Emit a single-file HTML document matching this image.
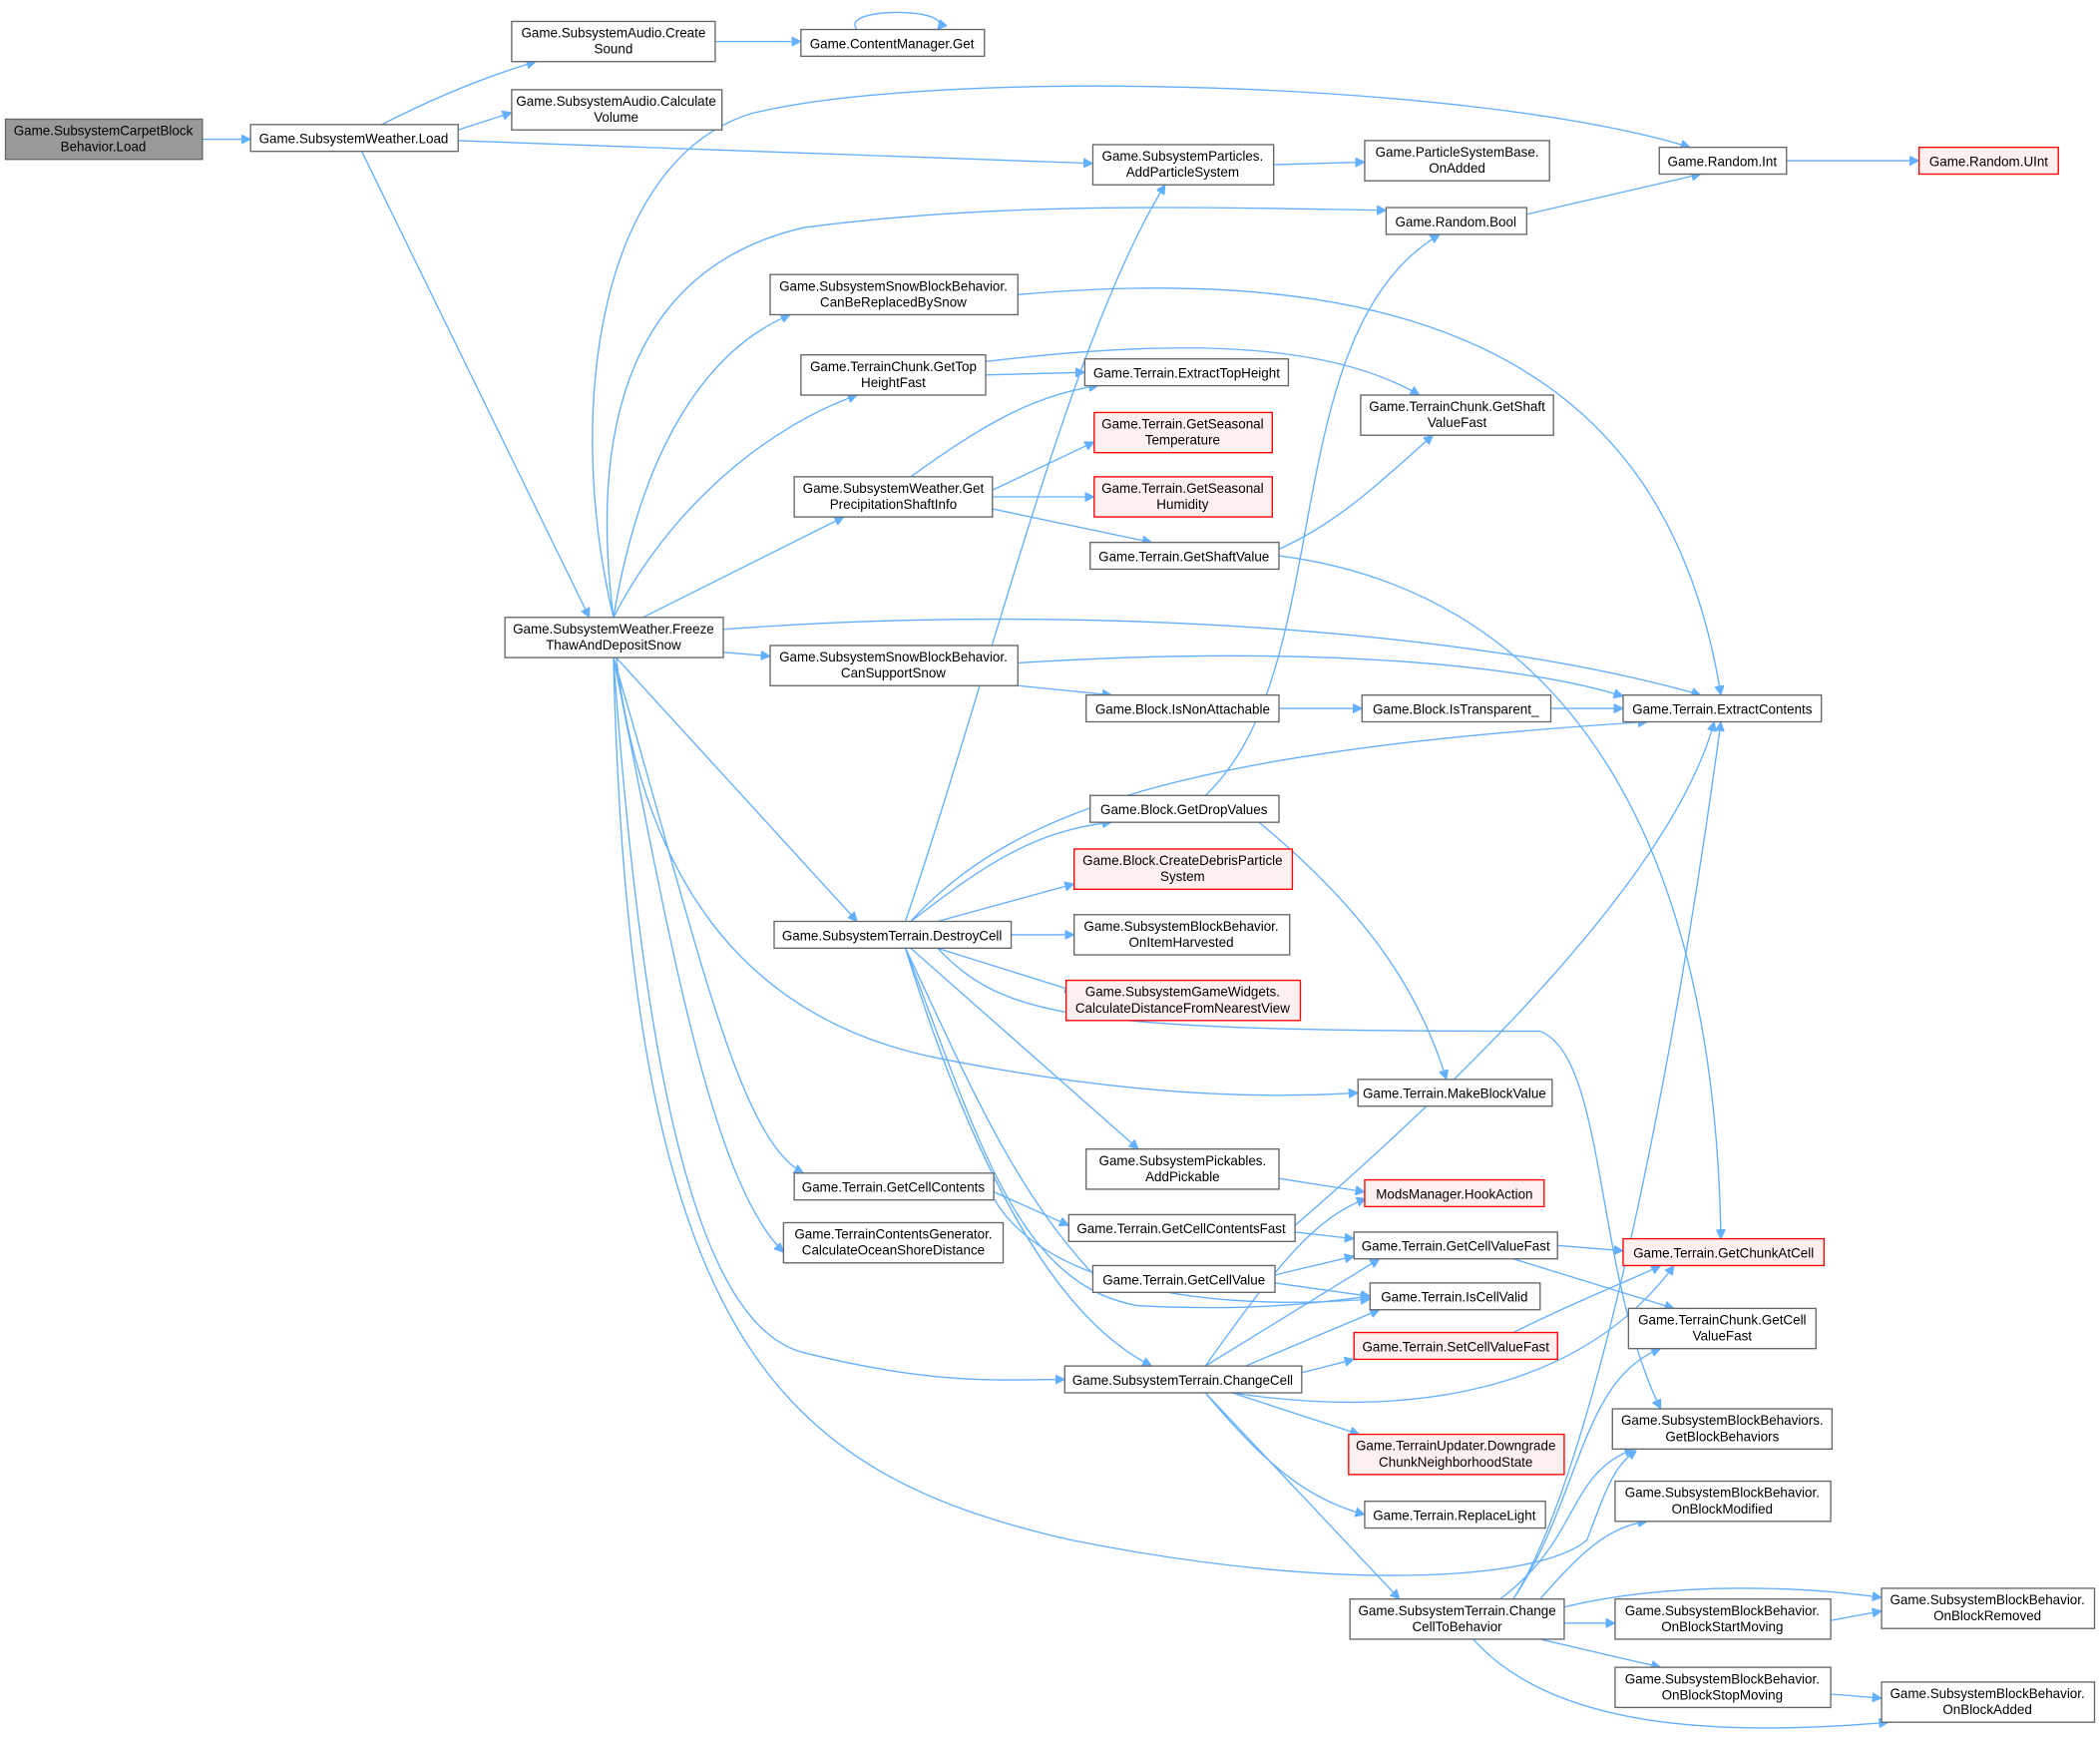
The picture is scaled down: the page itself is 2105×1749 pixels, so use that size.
<!DOCTYPE html>
<html><head><meta charset="utf-8"><style>
html,body{margin:0;padding:0;background:#fff;}
svg{display:block;}
text{font-family:"Liberation Sans",sans-serif;font-size:10px;fill:#000;text-anchor:middle;}
.n{fill:#fff;stroke:#666;stroke-width:1;}
.r{fill:#fff0f0;stroke:#f00;stroke-width:1;}
.g{fill:#999;stroke:#666;stroke-width:1;}
.e{fill:none;stroke:#63b0ff;stroke-width:1;marker-end:url(#a);}
</style></head><body>
<svg width="2105" height="1749" viewBox="0 0 1568 1303" xmlns="http://www.w3.org/2000/svg">
<defs><marker id="a" viewBox="0 0 10 10" refX="10" refY="5" markerWidth="7" markerHeight="7" orient="auto" markerUnits="userSpaceOnUse"><path d="M0,0L10,5L0,10z" fill="#63b0ff" stroke="#63b0ff"/></marker></defs>
<g>
<path class="e" d="M151,104L187,104"/>
<path class="e" d="M285,93C320,75 360,58 400,46"/>
<path class="e" d="M342,97L382,84"/>
<path class="e" d="M342,105L816,122"/>
<path class="e" d="M270,113L440,461"/>
<path class="e" d="M534,31L598,31"/>
<path class="e" d="M640,22C625,5 715,5 700,22"/>
<path class="e" d="M951,123L1019,121"/>
<path class="e" d="M1334,120L1433,120"/>
<path class="e" d="M1140,160L1270,130"/>
<path class="e" d="M458,461C420,300 450,120 560,85C700,50 1100,60 1262,110"/>
<path class="e" d="M458,461C440,320 470,200 600,170C750,150 900,155 1035,157"/>
<path class="e" d="M458,461C480,330 530,260 590,235"/>
<path class="e" d="M458,461C500,380 570,320 640,295"/>
<path class="e" d="M480,461L630,386"/>
<path class="e" d="M540,470C800,450 1100,470 1270,519"/>
<path class="e" d="M540,487L575,490"/>
<path class="e" d="M460,491L640,688"/>
<path class="e" d="M460,491C480,650 550,760 700,790C850,820 950,820 1014,816"/>
<path class="e" d="M458,491C520,700 550,850 600,876"/>
<path class="e" d="M458,491C500,700 530,880 585,935"/>
<path class="e" d="M458,491C480,800 520,990 600,1010C700,1035 750,1030 795,1030"/>
<path class="e" d="M458,491C470,1000 580,1100 800,1150C1000,1190 1150,1180 1185,1150C1200,1110 1205,1095 1222,1083"/>
<path class="e" d="M760,220C1100,190 1250,300 1285,519"/>
<path class="e" d="M736,280L810,278"/>
<path class="e" d="M736,270C900,250 1000,260 1060,295"/>
<path class="e" d="M680,356C730,320 770,295 820,288"/>
<path class="e" d="M741,366L817,330"/>
<path class="e" d="M741,371L817,371"/>
<path class="e" d="M741,380L860,405"/>
<path class="e" d="M955,410C1000,390 1030,360 1070,325"/>
<path class="e" d="M955,415C1150,440 1280,600 1285,925"/>
<path class="e" d="M760,495C1000,480 1150,500 1212,520"/>
<path class="e" d="M760,512L830,519"/>
<path class="e" d="M955,529L1017,529"/>
<path class="e" d="M1158,529L1212,529"/>
<path class="e" d="M676,688C740,500 800,250 870,138"/>
<path class="e" d="M680,688C760,600 900,560 1230,539"/>
<path class="e" d="M680,688C730,650 770,620 830,614"/>
<path class="e" d="M700,688L802,660"/>
<path class="e" d="M755,698L802,698"/>
<path class="e" d="M700,708L802,740"/>
<path class="e" d="M680,708L850,858"/>
<path class="e" d="M676,708C720,800 760,900 830,965"/>
<path class="e" d="M676,708C730,850 760,960 850,975C950,980 1000,970 1023,968"/>
<path class="e" d="M676,708C720,850 780,980 860,1020"/>
<path class="e" d="M700,708C750,760 800,770 1150,770C1200,790 1190,950 1240,1052"/>
<path class="e" d="M900,594C1000,500 950,250 1075,175"/>
<path class="e" d="M940,614C1020,680 1060,740 1080,806"/>
<path class="e" d="M955,880L1019,890"/>
<path class="e" d="M900,1020C950,950 980,910 1020,895"/>
<path class="e" d="M967,915C1100,800 1250,650 1280,539"/>
<path class="e" d="M742,890L798,915"/>
<path class="e" d="M742,895C780,960 900,980 1023,970"/>
<path class="e" d="M967,920L1011,925"/>
<path class="e" d="M1163,930L1212,934"/>
<path class="e" d="M1130,940L1250,977"/>
<path class="e" d="M952,952L1011,938"/>
<path class="e" d="M952,958L1023,968"/>
<path class="e" d="M1130,995C1180,970 1220,955 1240,945"/>
<path class="e" d="M900,1020L1030,940"/>
<path class="e" d="M930,1020L1030,978"/>
<path class="e" d="M972,1025L1011,1015"/>
<path class="e" d="M920,1040C1050,1060 1180,1040 1250,945"/>
<path class="e" d="M920,1040L1015,1071"/>
<path class="e" d="M900,1040C950,1100 980,1120 1019,1131"/>
<path class="e" d="M900,1040L1045,1194"/>
<path class="e" d="M1120,1194C1180,1150 1170,1100 1220,1082"/>
<path class="e" d="M1150,1194C1180,1160 1200,1140 1230,1136"/>
<path class="e" d="M1130,1194C1180,1120 1180,1030 1240,1007"/>
<path class="e" d="M1130,1194C1190,1100 1250,800 1285,539"/>
<path class="e" d="M1168,1200C1250,1180 1350,1185 1405,1193"/>
<path class="e" d="M1168,1212L1206,1212"/>
<path class="e" d="M1150,1224L1240,1245"/>
<path class="e" d="M1100,1224C1150,1280 1250,1300 1410,1286"/>
<path class="e" d="M1367,1210L1405,1203"/>
<path class="e" d="M1367,1265L1405,1268"/>
</g>
<g>
<rect class="g" x="4" y="89" width="147" height="30"/><text x="77" y="101">Game.SubsystemCarpetBlock</text><text x="77" y="113">Behavior.Load</text>
<rect class="n" x="187" y="93" width="155" height="20"/><text x="264" y="107">Game.SubsystemWeather.Load</text>
<rect class="n" x="382" y="16" width="152" height="30"/><text x="458" y="28">Game.SubsystemAudio.Create</text><text x="458" y="40">Sound</text>
<rect class="n" x="382" y="67" width="157" height="30"/><text x="460" y="79">Game.SubsystemAudio.Calculate</text><text x="460" y="91">Volume</text>
<rect class="n" x="598" y="22" width="137" height="20"/><text x="666" y="36">Game.ContentManager.Get</text>
<rect class="n" x="816" y="108" width="135" height="30"/><text x="883" y="120">Game.SubsystemParticles.</text><text x="883" y="132">AddParticleSystem</text>
<rect class="n" x="1019" y="105" width="138" height="30"/><text x="1088" y="117">Game.ParticleSystemBase.</text><text x="1088" y="129">OnAdded</text>
<rect class="n" x="1239" y="110" width="95" height="20"/><text x="1286" y="124">Game.Random.Int</text>
<rect class="r" x="1433" y="110" width="104" height="20"/><text x="1485" y="124">Game.Random.UInt</text>
<rect class="n" x="1035" y="155" width="105" height="20"/><text x="1087" y="169">Game.Random.Bool</text>
<rect class="n" x="575" y="205" width="185" height="30"/><text x="667" y="217">Game.SubsystemSnowBlockBehavior.</text><text x="667" y="229">CanBeReplacedBySnow</text>
<rect class="n" x="598" y="265" width="138" height="30"/><text x="667" y="277">Game.TerrainChunk.GetTop</text><text x="667" y="289">HeightFast</text>
<rect class="n" x="810" y="268" width="152" height="20"/><text x="886" y="282">Game.Terrain.ExtractTopHeight</text>
<rect class="n" x="1016" y="295" width="144" height="30"/><text x="1088" y="307">Game.TerrainChunk.GetShaft</text><text x="1088" y="319">ValueFast</text>
<rect class="r" x="817" y="308" width="133" height="30"/><text x="883" y="320">Game.Terrain.GetSeasonal</text><text x="883" y="332">Temperature</text>
<rect class="r" x="817" y="356" width="133" height="30"/><text x="883" y="368">Game.Terrain.GetSeasonal</text><text x="883" y="380">Humidity</text>
<rect class="n" x="593" y="356" width="148" height="30"/><text x="667" y="368">Game.SubsystemWeather.Get</text><text x="667" y="380">PrecipitationShaftInfo</text>
<rect class="n" x="814" y="405" width="141" height="20"/><text x="884" y="419">Game.Terrain.GetShaftValue</text>
<rect class="n" x="377" y="461" width="163" height="30"/><text x="458" y="473">Game.SubsystemWeather.Freeze</text><text x="458" y="485">ThawAndDepositSnow</text>
<rect class="n" x="575" y="482" width="185" height="30"/><text x="667" y="494">Game.SubsystemSnowBlockBehavior.</text><text x="667" y="506">CanSupportSnow</text>
<rect class="n" x="811" y="519" width="144" height="20"/><text x="883" y="533">Game.Block.IsNonAttachable</text>
<rect class="n" x="1017" y="519" width="141" height="20"/><text x="1087" y="533">Game.Block.IsTransparent_</text>
<rect class="n" x="1212" y="519" width="148" height="20"/><text x="1286" y="533">Game.Terrain.ExtractContents</text>
<rect class="n" x="814" y="594" width="141" height="20"/><text x="884" y="608">Game.Block.GetDropValues</text>
<rect class="r" x="802" y="634" width="163" height="30"/><text x="883" y="646">Game.Block.CreateDebrisParticle</text><text x="883" y="658">System</text>
<rect class="n" x="578" y="688" width="177" height="20"/><text x="666" y="702">Game.SubsystemTerrain.DestroyCell</text>
<rect class="n" x="802" y="683" width="161" height="30"/><text x="882" y="695">Game.SubsystemBlockBehavior.</text><text x="882" y="707">OnItemHarvested</text>
<rect class="r" x="796" y="732" width="175" height="30"/><text x="883" y="744">Game.SubsystemGameWidgets.</text><text x="883" y="756">CalculateDistanceFromNearestView</text>
<rect class="n" x="1014" y="806" width="145" height="20"/><text x="1086" y="820">Game.Terrain.MakeBlockValue</text>
<rect class="n" x="811" y="858" width="144" height="30"/><text x="883" y="870">Game.SubsystemPickables.</text><text x="883" y="882">AddPickable</text>
<rect class="r" x="1019" y="881" width="134" height="20"/><text x="1086" y="895">ModsManager.HookAction</text>
<rect class="n" x="593" y="876" width="149" height="20"/><text x="667" y="890">Game.Terrain.GetCellContents</text>
<rect class="n" x="798" y="907" width="169" height="20"/><text x="882" y="921">Game.Terrain.GetCellContentsFast</text>
<rect class="n" x="585" y="913" width="164" height="30"/><text x="667" y="925">Game.TerrainContentsGenerator.</text><text x="667" y="937">CalculateOceanShoreDistance</text>
<rect class="n" x="1011" y="920" width="152" height="20"/><text x="1087" y="934">Game.Terrain.GetCellValueFast</text>
<rect class="r" x="1212" y="925" width="150" height="20"/><text x="1287" y="939">Game.Terrain.GetChunkAtCell</text>
<rect class="n" x="816" y="945" width="136" height="20"/><text x="884" y="959">Game.Terrain.GetCellValue</text>
<rect class="n" x="1023" y="958" width="127" height="20"/><text x="1086" y="972">Game.Terrain.IsCellValid</text>
<rect class="n" x="1216" y="977" width="140" height="30"/><text x="1286" y="989">Game.TerrainChunk.GetCell</text><text x="1286" y="1001">ValueFast</text>
<rect class="r" x="1011" y="995" width="152" height="20"/><text x="1087" y="1009">Game.Terrain.SetCellValueFast</text>
<rect class="n" x="795" y="1020" width="177" height="20"/><text x="883" y="1034">Game.SubsystemTerrain.ChangeCell</text>
<rect class="n" x="1204" y="1052" width="164" height="30"/><text x="1286" y="1064">Game.SubsystemBlockBehaviors.</text><text x="1286" y="1076">GetBlockBehaviors</text>
<rect class="r" x="1007" y="1071" width="161" height="30"/><text x="1087" y="1083">Game.TerrainUpdater.Downgrade</text><text x="1087" y="1095">ChunkNeighborhoodState</text>
<rect class="n" x="1206" y="1106" width="161" height="30"/><text x="1286" y="1118">Game.SubsystemBlockBehavior.</text><text x="1286" y="1130">OnBlockModified</text>
<rect class="n" x="1019" y="1121" width="135" height="20"/><text x="1086" y="1135">Game.Terrain.ReplaceLight</text>
<rect class="n" x="1008" y="1194" width="160" height="30"/><text x="1088" y="1206">Game.SubsystemTerrain.Change</text><text x="1088" y="1218">CellToBehavior</text>
<rect class="n" x="1405" y="1186" width="159" height="30"/><text x="1484" y="1198">Game.SubsystemBlockBehavior.</text><text x="1484" y="1210">OnBlockRemoved</text>
<rect class="n" x="1206" y="1194" width="161" height="30"/><text x="1286" y="1206">Game.SubsystemBlockBehavior.</text><text x="1286" y="1218">OnBlockStartMoving</text>
<rect class="n" x="1206" y="1245" width="161" height="30"/><text x="1286" y="1257">Game.SubsystemBlockBehavior.</text><text x="1286" y="1269">OnBlockStopMoving</text>
<rect class="n" x="1405" y="1256" width="159" height="30"/><text x="1484" y="1268">Game.SubsystemBlockBehavior.</text><text x="1484" y="1280">OnBlockAdded</text>
</g>
</svg>
</body></html>
